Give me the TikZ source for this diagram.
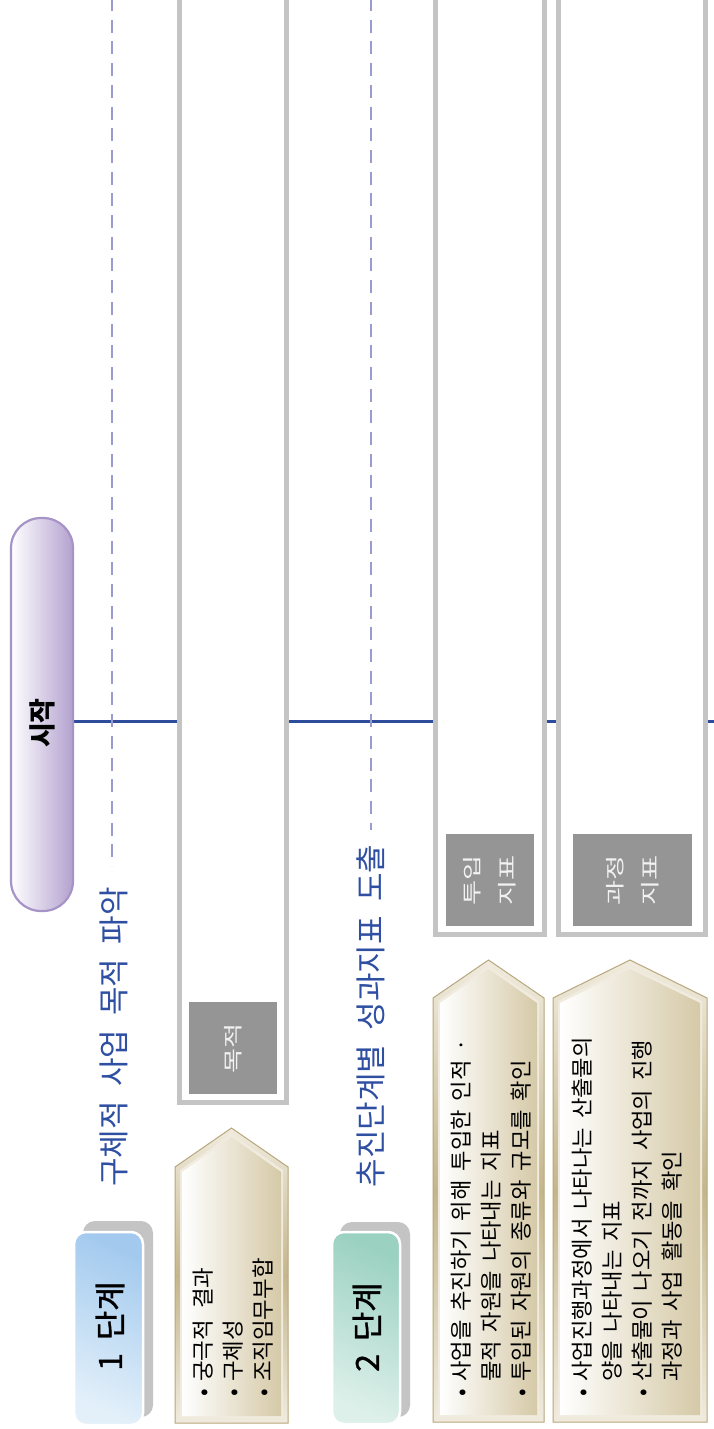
\documentclass[tikz,border=0pt]{standalone}
\usepackage{fontspec}
\setmainfont{Noto Sans CJK KR}
\newfontfamily\krw{Noto Sans CJK KR}
\newfontfamily\krmed[FakeBold=1.2]{Noto Sans CJK KR}
\usetikzlibrary{calc}
\definecolor{dashcol}{HTML}{9A9CD1}
\definecolor{bluel}{HTML}{2E4C9C}
\definecolor{titleblue}{HTML}{2F4FA2}
\definecolor{framegray}{HTML}{C4C4C4}
\definecolor{labgray}{HTML}{959595}
\definecolor{pillB}{HTML}{A693C7}
\definecolor{pillR}{HTML}{B3A1CF}
\definecolor{bdgAdark}{HTML}{A3CAEE}
\definecolor{bdgAlight}{HTML}{E3F0FA}
\definecolor{bdgBdark}{HTML}{9BD1C1}
\definecolor{bdgBlight}{HTML}{DDF0EA}
\definecolor{pentB}{HTML}{B8A77C}
\definecolor{pentBand}{HTML}{F0EBDE}
\definecolor{pentBandD}{HTML}{C4B68C}
\definecolor{pentR}{HTML}{D5C9A7}
\newcommand{\bulmark}{\makebox[15pt][l]{•}}
\newcommand{\bulind}{\hspace*{15pt}}
\newcommand{\setwsp}[1]{\spaceskip=#1\relax}
\newcommand{\widetxt}[1]{\scalebox{1.4}[1]{#1}}
\newcommand{\mypent}[5]{%
  \shade[top color=pentBand, bottom color=pentBand, middle color=pentBandD]
    (#1,#5) -- (#1,#4) -- ({(#1+#2)/2},#3) -- (#2,#4) -- (#2,#5) -- cycle;
  \draw[pentB, line width=1]
    (#1,#5) -- (#1,#4) -- ({(#1+#2)/2},#3) -- (#2,#4) -- (#2,#5) -- cycle;
  \fill[pentBand]
    ({#1+5},{#5-5}) -- ({#1+5},{#4+3}) -- ({(#1+#2)/2},{#3+6}) -- ({#2-5},{#4+3}) -- ({#2-5},{#5-5}) -- cycle;
  \shade[left color=white, right color=pentR]
    ({#1+7},{#5-7}) -- ({#1+7},{#4+5}) -- ({(#1+#2)/2},{#3+9}) -- ({#2-7},{#4+5}) -- ({#2-7},{#5-7}) -- cycle;
}
\tikzset{
  dashline/.style={dashcol, line width=2.7, dash pattern=on 13pt off 8.7pt},
  framebox/.style={draw=framegray, line width=5, fill=white},
  labbox/.style={fill=labgray, text=white!95!black, rotate=90, inner sep=0,
    align=center, font=\krw\fontsize{19.5}{35}\selectfont},
  titletext/.style={rotate=90, text=titleblue, inner sep=0,
    font=\krw\fontsize{31}{34}\selectfont, execute at begin node={\setwsp{0.46em}}},
  badgetext/.style={rotate=90, inner sep=0,
    font=\krmed\fontsize{32}{36}\selectfont, execute at begin node={\setwsp{0.4em}}},
  bodyA/.style={rotate=90, anchor=west, inner sep=0,
    font=\krw\fontsize{22.4}{26}\selectfont, execute at begin node={\setwsp{0.5em}}},
  bodyB/.style={rotate=90, anchor=west, inner sep=0,
    font=\krw\fontsize{22.2}{26}\selectfont, execute at begin node={\setwsp{0.4em}}},
}
\begin{document}
\begin{tikzpicture}[x=1pt,y=-1pt]
\useasboundingbox (0,0) rectangle (713,1429);
\fill[white] (0,0) rectangle (713,1429);

% horizontal connector
\coordinate (ls) at (72,721);
\coordinate (le) at (716,721);
\draw[bluel, line width=3] (ls) -- (le);

% dashed guide lines
\coordinate (d1s) at (112,-2);
\coordinate (d1e) at (112,866);
\draw[dashline] (d1s) -- (d1e);
\coordinate (d2s) at (371,-2);
\coordinate (d2e) at (371,830);
\draw[dashline] (d2s) -- (d2e);

% start pill
\shade[left color=white, right color=pillR, rounded corners=30]
  (11,518) rectangle (73,911);
\draw[pillB, line width=2.2, rounded corners=30] (11,518) rectangle (73,911);
\node[badgetext, font=\bfseries\fontsize{27}{30}\selectfont] (start) at (42,723) {시작};

% frame boxes
\draw[framebox] (179.5,-8) rectangle (286.5,1102.5);
\draw[framebox] (435.5,-8) rectangle (544.5,934.5);
\draw[framebox] (558.5,-8) rectangle (705.5,934.5);

% labels
\node[labbox, minimum width=92pt, minimum height=88pt] (lab1) at (233,1048) {\widetxt{목적}};
\node[labbox, minimum width=92pt, minimum height=88pt] (lab2) at (490,880) {\widetxt{투입}\\\widetxt{지표}};
\node[labbox, minimum width=92pt, minimum height=119pt] (lab3) at (632.5,880) {\widetxt{과정}\\\widetxt{지표}};

% titles
\node[titletext] (t1) at (114,1037) {구체적 사업 목적 파악};
\node[titletext] (t2) at (371,1016) {추진단계별 성과지표 도출};

% badges
\fill[framegray, rounded corners=12] (83,1221) rectangle (153,1417);
\shade[top color=bdgAdark, bottom color=bdgAlight, shading angle=-25, rounded corners=12]
  (74,1232) rectangle (143,1425);
\draw[white, line width=2.5, rounded corners=12] (74,1232) rectangle (143,1425);
\node[badgetext] (b1) at (110,1326) {1 단계};

\fill[framegray, rounded corners=12] (340,1222) rectangle (410,1417);
\shade[top color=bdgBdark, bottom color=bdgBlight, shading angle=-25, rounded corners=12]
  (332,1232) rectangle (400,1424);
\draw[white, line width=2.5, rounded corners=12] (332,1232) rectangle (400,1424);
\node[badgetext] (b2) at (367,1327) {2 단계};

% pentagons
\mypent{175}{288}{1128}{1167}{1423}
\mypent{433}{544}{960}{998}{1422}
\mypent{553}{707}{960}{998}{1422}

% pentagon texts
\node[bodyA] (p1a) at (203,1397) {\bulmark 궁극적 결과};
\node[bodyA] (p1b) at (233,1397) {\bulmark 구체성};
\node[bodyA] (p1c) at (263,1397) {\bulmark 조직임무부합};

\node[bodyB] (p2a) at (461,1397) {\bulmark 사업을 추진하기 위해 투입한 인적 ·};
\node[bodyB] (p2b) at (491,1397) {\bulind 물적 자원을 나타내는 지표};
\node[bodyB] (p2c) at (521,1397) {\bulmark 투입된 자원의 종류와 규모를 확인};

\node[bodyB] (p3a) at (582,1397) {\bulmark 사업진행과정에서 나타나는 산출물의};
\node[bodyB] (p3b) at (612,1397) {\bulind 양을 나타내는 지표};
\node[bodyB] (p3c) at (642,1397) {\bulmark 산출물이 나오기 전까지 사업의 진행};
\node[bodyB] (p3d) at (672,1397) {\bulind 과정과 사업 활동을 확인};
\end{tikzpicture}
\end{document}
